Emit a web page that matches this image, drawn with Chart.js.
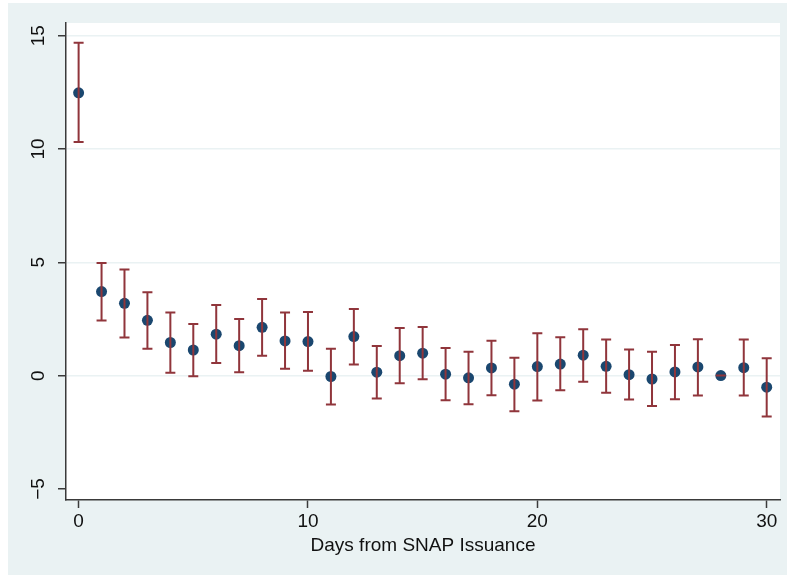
<!DOCTYPE html>
<html>
<head>
<meta charset="utf-8">
<script src="https://cdn.jsdelivr.net/npm/chart.js@4/dist/chart.umd.min.js"></script>
<style>
  html, body { margin: 0; padding: 0; background: #fff; }
  #wrap { position: absolute; left: 8px; top: 3px; width: 779px; height: 572px; background: #EAF2F3; }
</style>
</head>
<body>
<div id="wrap"><canvas id="chart" width="779" height="572"></canvas></div>
<script>
const days = [0, 1, 2, 3, 4, 5, 6, 7, 8, 9, 10, 11, 12, 13, 14, 15, 16, 17, 18, 19, 20, 21, 22, 23, 24, 25, 26, 27, 28, 29, 30];
const estimates = [12.48, 3.71, 3.19, 2.44, 1.46, 1.13, 1.83, 1.32, 2.13, 1.53, 1.50, -0.04, 1.72, 0.15, 0.88, 0.99, 0.06, -0.10, 0.34, -0.38, 0.40, 0.51, 0.90, 0.41, 0.04, -0.15, 0.16, 0.38, 0, 0.35, -0.51];
const ciUpper = [14.69, 4.97, 4.68, 3.68, 2.78, 2.28, 3.11, 2.50, 3.38, 2.78, 2.81, 1.19, 2.94, 1.31, 2.10, 2.15, 1.22, 1.05, 1.54, 0.79, 1.87, 1.69, 2.05, 1.59, 1.15, 1.05, 1.35, 1.60, 0, 1.59, 0.77];
const ciLower = [10.31, 2.43, 1.68, 1.19, 0.13, -0.03, 0.56, 0.15, 0.88, 0.30, 0.21, -1.28, 0.49, -1.01, -0.34, -0.16, -1.09, -1.26, -0.87, -1.57, -1.10, -0.65, -0.27, -0.76, -1.06, -1.34, -1.04, -0.88, 0, -0.88, -1.80];
const xTicks = [0, 10, 20, 30];
const yTicks = [-5, 0, 5, 10, 15];

const navy = '#1A476F';
const red = '#90353B';
const axisCol = '#3a3a3a';
const font = "'Liberation Sans', Arial, Helvetica, sans-serif";

// white plot region
const plotBg = {
  id: 'plotBg',
  beforeDraw(chart) {
    const { ctx, chartArea: a } = chart;
    ctx.save();
    ctx.fillStyle = '#fff';
    ctx.fillRect(a.left, a.top, a.right - a.left, a.bottom - a.top);
    ctx.restore();
  }
};

// confidence interval caps, drawn on top of the markers
const errorBars = {
  id: 'errorBars',
  afterDatasetsDraw(chart) {
    const { ctx, scales: { x, y } } = chart;
    ctx.save();
    ctx.strokeStyle = red;
    ctx.lineWidth = 2;
    days.forEach((d, i) => {
      const px = x.getPixelForValue(d);
      const top = y.getPixelForValue(ciUpper[i]);
      const bot = y.getPixelForValue(ciLower[i]);
      ctx.beginPath();
      ctx.moveTo(px, top); ctx.lineTo(px, bot);
      ctx.moveTo(px - 5, top); ctx.lineTo(px + 5, top);
      ctx.moveTo(px - 5, bot); ctx.lineTo(px + 5, bot);
      ctx.stroke();
    });
    ctx.restore();
  }
};

// rotated y tick labels, Stata style
const yLabels = {
  id: 'yLabels',
  afterDraw(chart) {
    const { ctx, scales: { y } } = chart;
    ctx.save();
    ctx.fillStyle = '#111';
    ctx.font = "19px " + font;
    ctx.textAlign = 'center';
    ctx.textBaseline = 'alphabetic';
    yTicks.forEach(v => {
      const py = y.getPixelForValue(v);
      ctx.save();
      ctx.translate(36, py);
      ctx.rotate(-Math.PI / 2);
      ctx.fillText(String(v).replace('-', '\u2212'), 0, 0);
      ctx.restore();
    });
    ctx.restore();
  }
};

new Chart(document.getElementById('chart'), {
  type: 'scatter',
  data: {
    datasets: [{
      data: days.map((d, i) => ({ x: d, y: estimates[i] })),
      pointRadius: 5.5,
      pointHoverRadius: 5.5,
      pointBackgroundColor: navy,
      pointBorderColor: navy,
      pointBorderWidth: 0
    }]
  },
  options: {
    responsive: false,
    animation: false,
    events: [],
    layout: { padding: { left: 0, top: 20, right: 7, bottom: 0 } },
    plugins: { legend: { display: false }, tooltip: { enabled: false } },
    scales: {
      x: {
        type: 'linear',
        min: -0.55,
        max: 30.58,
        afterBuildTicks(s) { s.ticks = xTicks.map(v => ({ value: v })); },
        afterFit(s) { s.height = 75; },
        border: { display: true, color: axisCol, width: 1.5 },
        grid: { drawOnChartArea: false, tickLength: 8, tickColor: axisCol, tickWidth: 1.5 },
        ticks: { color: '#111', font: { family: font, size: 19 }, padding: 2, maxRotation: 0 },
        title: {
          display: true,
          text: 'Days from SNAP Issuance',
          color: '#111',
          font: { family: font, size: 19 },
          padding: { top: 0, bottom: 18 }
        }
      },
      y: {
        type: 'linear',
        min: -5.49,
        max: 15.56,
        afterBuildTicks(s) { s.ticks = yTicks.map(v => ({ value: v })); },
        afterFit(s) { s.width = 58; },
        border: { display: true, color: axisCol, width: 1.5 },
        grid: {
          color: ctx => (ctx.tick && ctx.tick.value === -5) ? 'rgba(0,0,0,0)' : '#EAF2F3',
          lineWidth: 1.5,
          tickLength: 8,
          tickColor: axisCol,
          tickWidth: 1.5
        },
        ticks: { display: false }
      }
    }
  },
  plugins: [plotBg, errorBars, yLabels]
});
</script>
</body>
</html>
